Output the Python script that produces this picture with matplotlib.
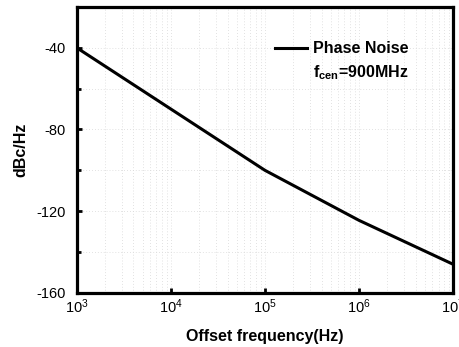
import matplotlib
matplotlib.use('Agg')
import matplotlib.pyplot as plt
import numpy as np
from matplotlib.lines import Line2D

plt.rcParams['font.family'] = 'Liberation Sans'
plt.rcParams['mathtext.fontset'] = 'custom'
plt.rcParams['mathtext.rm'] = 'Liberation Sans'
plt.rcParams['mathtext.bf'] = 'Liberation Sans:bold'
plt.rcParams['axes.unicode_minus'] = False

# offset frequency (Hz) and phase noise (dBc/Hz)
freq = [1e3, 1e4, 1e5, 1e6, 1e7]
noise = [-40, -70, -100, -124.5, -146]
yticks = [-160, -120, -80, -40]

fig = plt.figure(figsize=(4.6, 3.47), dpi=100)
ax = fig.add_axes([0.167, 0.156, 0.818, 0.824])

ax.plot(freq, noise, color='black', lw=2.2)
ax.set_xscale('log')
ax.set_xlim(1e3, 1e7)
ax.set_ylim(-160, -20)
ax.set_yticks(yticks)
ax.set_yticks([-140, -100, -60], minor=True)

ax.grid(True, which='both', color='#d8d8d8', ls=(0, (1, 2.5)), lw=0.6)
ax.tick_params(which='both', direction='in', labelsize=10.5, width=2)
ax.tick_params(axis='y', which='both', pad=8)
ax.tick_params(axis='x', which='minor', length=0)
ax.tick_params(axis='y', which='minor', length=3)
for s in ax.spines.values():
    s.set_linewidth(2.3)

ax.set_xlabel('Offset frequency(Hz)', fontsize=11.5, fontweight='bold', labelpad=9)
ax.set_ylabel('dBc/Hz', fontsize=11.5, fontweight='bold', labelpad=6)

h1 = Line2D([], [], color='black', lw=2.2)
h2 = Line2D([], [], color='none')
leg = ax.legend([h1, h2], ['Phase Noise', r'f$_{\mathregular{cen}}$=900MHz'],
                loc='upper right', bbox_to_anchor=(0.92, 0.93), frameon=False,
                prop={'weight': 'bold', 'size': 11.5}, handlelength=2.0,
                handletextpad=0.4, labelspacing=0.45)

fig.savefig('out.png', dpi=100)
